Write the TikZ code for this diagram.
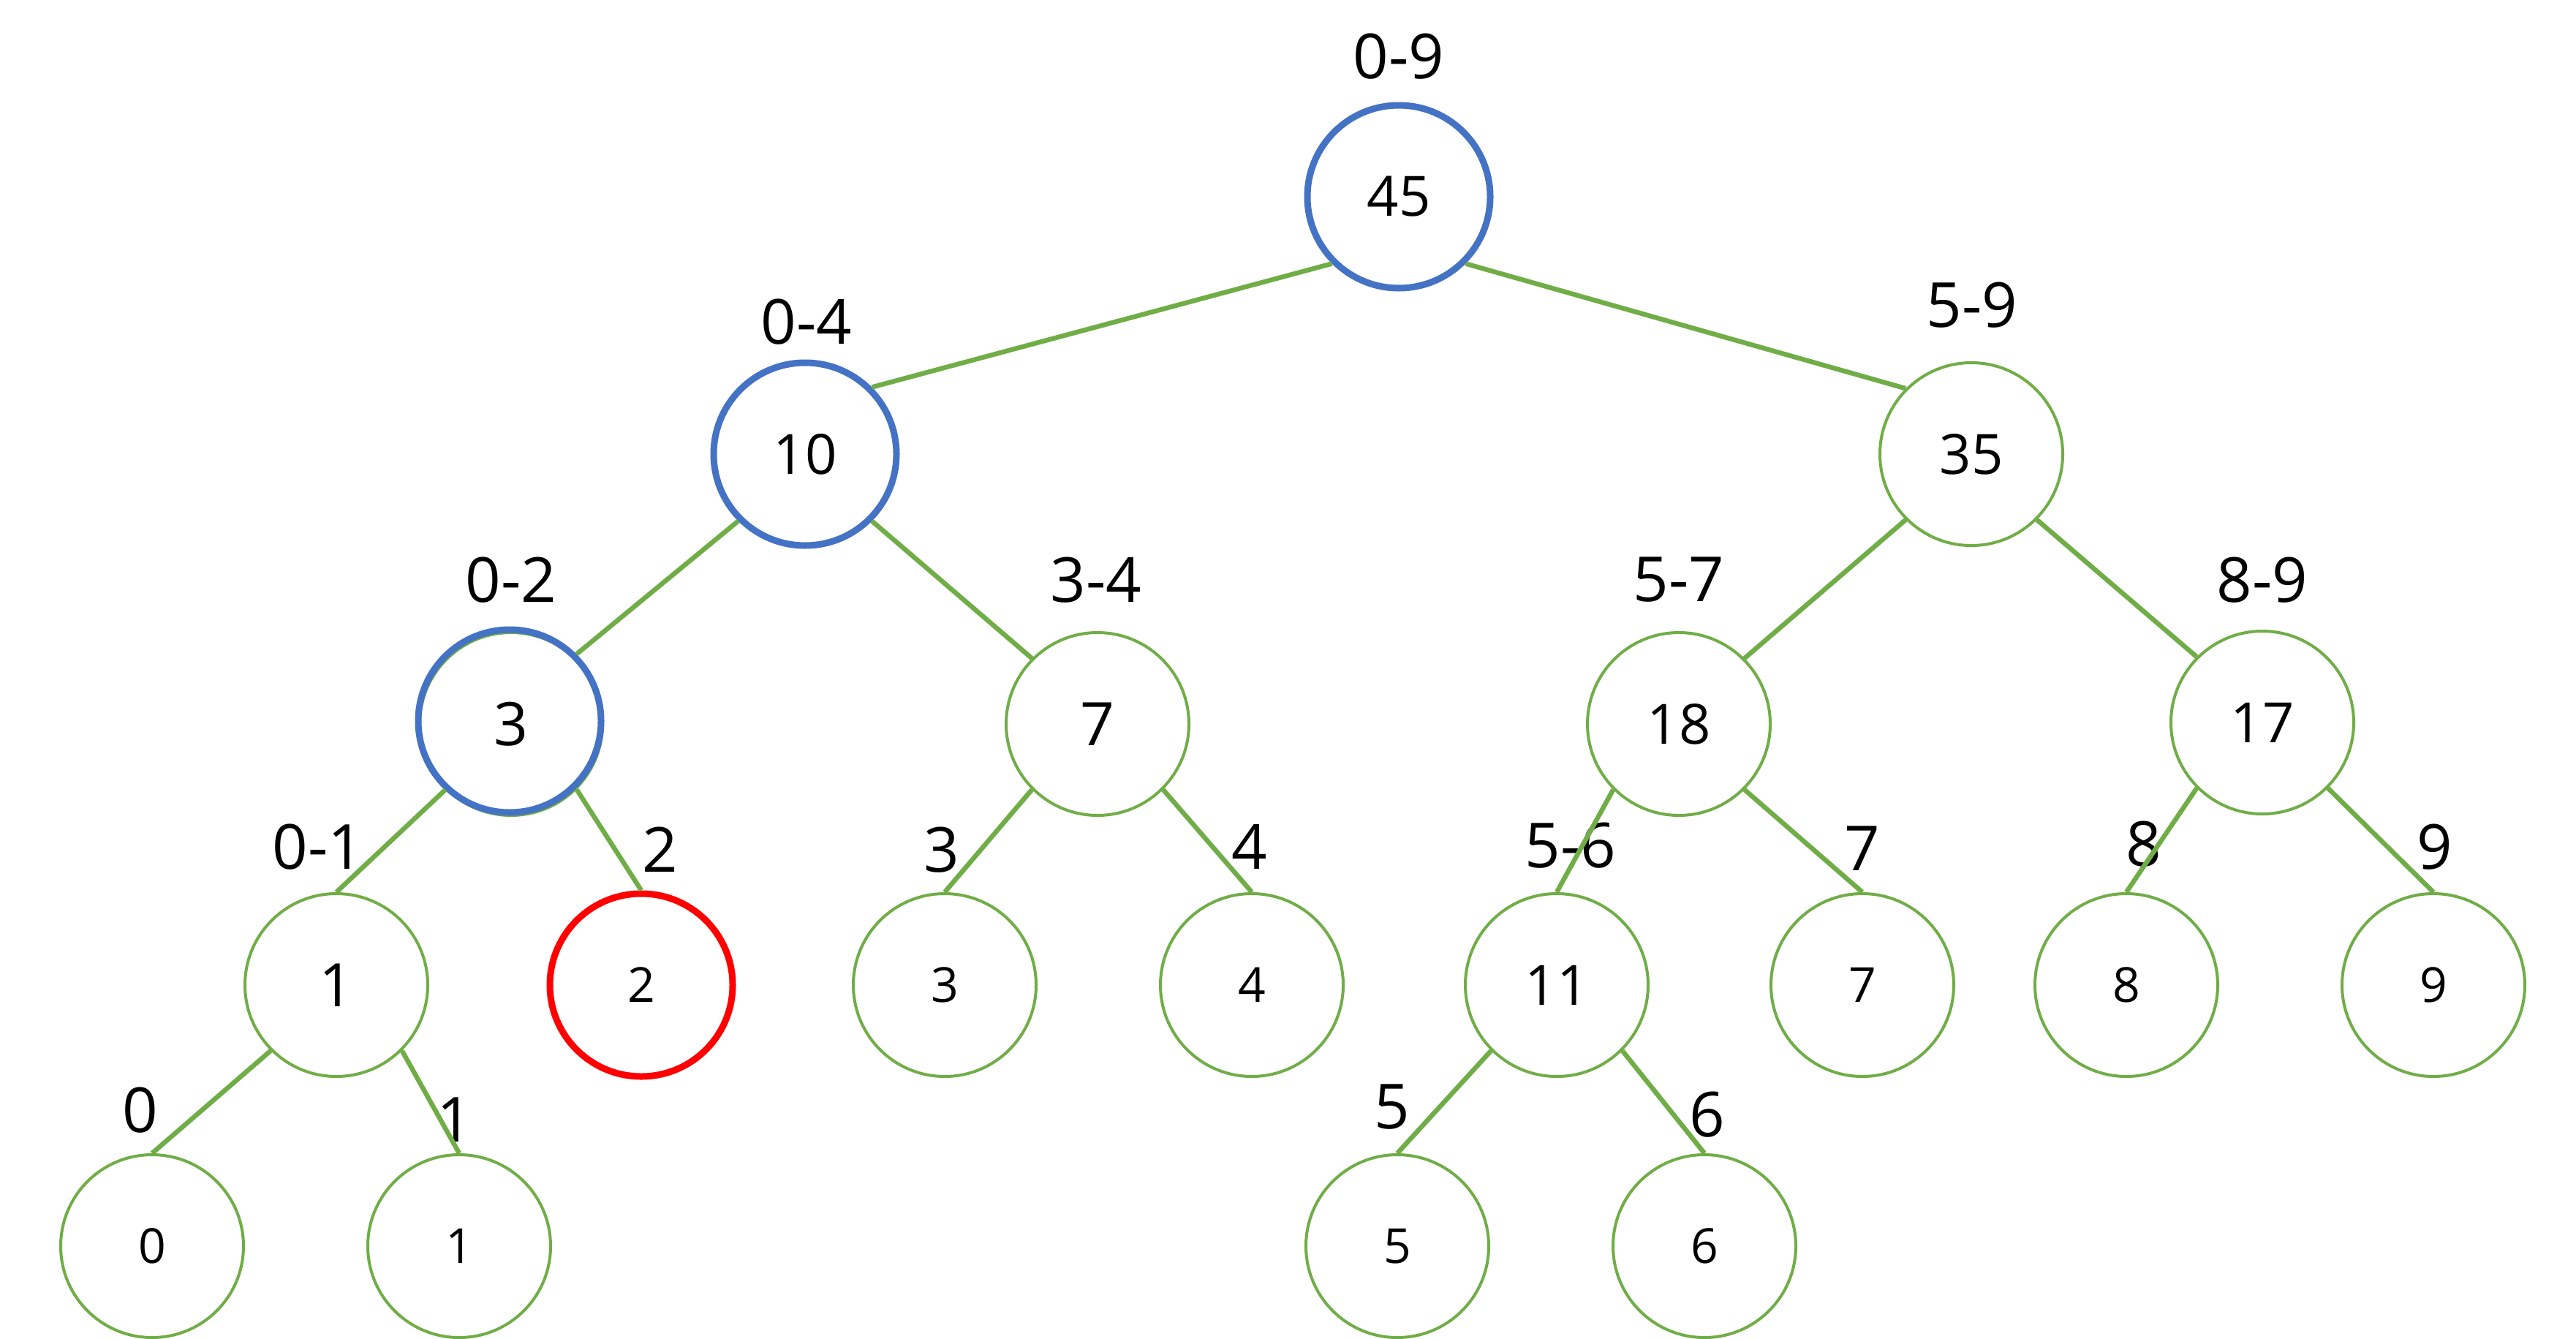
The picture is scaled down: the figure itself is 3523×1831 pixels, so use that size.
\documentclass[tikz,border=0pt]{standalone}
\usepackage{fontspec}
\setmainfont{Open Sans}
\definecolor{grn}{HTML}{70AD47}
\definecolor{blu}{HTML}{4472C4}
\definecolor{hred}{HTML}{FF0000}
\tikzset{
 nd/.style={circle, draw=grn, line width=4pt, minimum size=250pt, inner sep=0pt, fill=white, font=\fontsize{76}{80}\selectfont},
 leafnode/.style={nd, font=\fontsize{66}{70}\selectfont},
 bignode/.style={nd, font=\fontsize{82}{88}\selectfont},
 hot/.style={draw=blu, line width=9pt},
 ring/.style={circle, draw=blu, line width=9pt, minimum size=250pt, inner sep=0pt},
 lbl/.style={inner sep=0pt, font=\fontsize{85}{90}\selectfont},
 link/.style={draw=grn, line width=6.5pt},
}
\begin{document}
\begin{tikzpicture}[x=1pt,y=-1pt]
\useasboundingbox (0,0) rectangle (3523,1831);
% nodes
\node[nd,hot] (n0) at (1913,269) {45};
\node[nd,hot] (n1) at (1101,621) {10};
\node[nd] (n2) at (2696,621) {35};
\node[bignode] (n3) at (699,990) {3};
\node[ring] (n3b) at (697,986) {};
\node[bignode] (n4) at (1501,990) {7};
\node[nd] (n5) at (2296,990) {18};
\node[nd] (n6) at (3094,988) {17};
\node[bignode] (n7) at (460,1347) {1};
\node[leafnode, draw=hred, line width=9pt] (n8) at (877,1347) {2};
\node[leafnode] (n9) at (1292,1347) {3};
\node[leafnode] (n10) at (1712,1347) {4};
\node[nd] (n11) at (2129,1347) {11};
\node[leafnode] (n12) at (2547,1347) {7};
\node[leafnode] (n13) at (2908,1347) {8};
\node[leafnode] (n14) at (3328,1347) {9};
\node[leafnode] (n15) at (208,1704) {0};
\node[leafnode] (n16) at (628,1704) {1};
\node[leafnode] (n17) at (1911,1704) {5};
\node[leafnode] (n18) at (2331,1704) {6};
% labels
\node[lbl] (l0) at (1913,77) {0-9};
\node[lbl] (l1) at (1103,440) {0-4};
\node[lbl] (l2) at (2697,417) {5-9};
\node[lbl] (l3) at (699,793) {0-2};
\node[lbl] (l4) at (1499,793) {3-4};
\node[lbl] (l5) at (2296,793) {5-7};
\node[lbl] (l6) at (3094,793) {8-9};
\node[lbl] (l7) at (435,1158) {0-1};
\node[lbl] (l8) at (903,1162) {2};
\node[lbl] (l9) at (1288,1162) {3};
\node[lbl] (l10) at (1709,1158) {4};
\node[lbl] (l11) at (2148,1156) {5-6};
\node[lbl] (l12) at (2547,1160) {7};
\node[lbl] (l13) at (2932,1154) {8};
\node[lbl] (l14) at (3330,1158) {9};
\node[lbl] (l15) at (192,1518) {0};
\node[lbl] (l16) at (622,1531) {1};
\node[lbl] (l17) at (1904,1514) {5};
\node[lbl] (l18) at (2335,1524) {6};
% edges
\draw[link] (n0.south west) -- (n1.north east);
\draw[link] (n0.south east) -- (n2.north west);
\draw[link] (n1.south west) -- (n3b.north east);
\draw[link] (n1.south east) -- (n4.north west);
\draw[link] (n2.south west) -- (n5.north east);
\draw[link] (n2.south east) -- (n6.north west);
\draw[link] (n3.south west) -- (n7.north);
\draw[link] (n3.south east) -- (n8.north);
\draw[link] (n4.south west) -- (n9.north);
\draw[link] (n4.south east) -- (n10.north);
\draw[link] (n5.south west) -- (n11.north);
\draw[link] (n5.south east) -- (n12.north);
\draw[link] (n6.south west) -- (n13.north);
\draw[link] (n6.south east) -- (n14.north);
\draw[link] (n7.south west) -- (n15.north);
\draw[link] (n7.south east) -- (n16.north);
\draw[link] (n11.south west) -- (n17.north);
\draw[link] (n11.south east) -- (n18.north);
\end{tikzpicture}
\end{document}
